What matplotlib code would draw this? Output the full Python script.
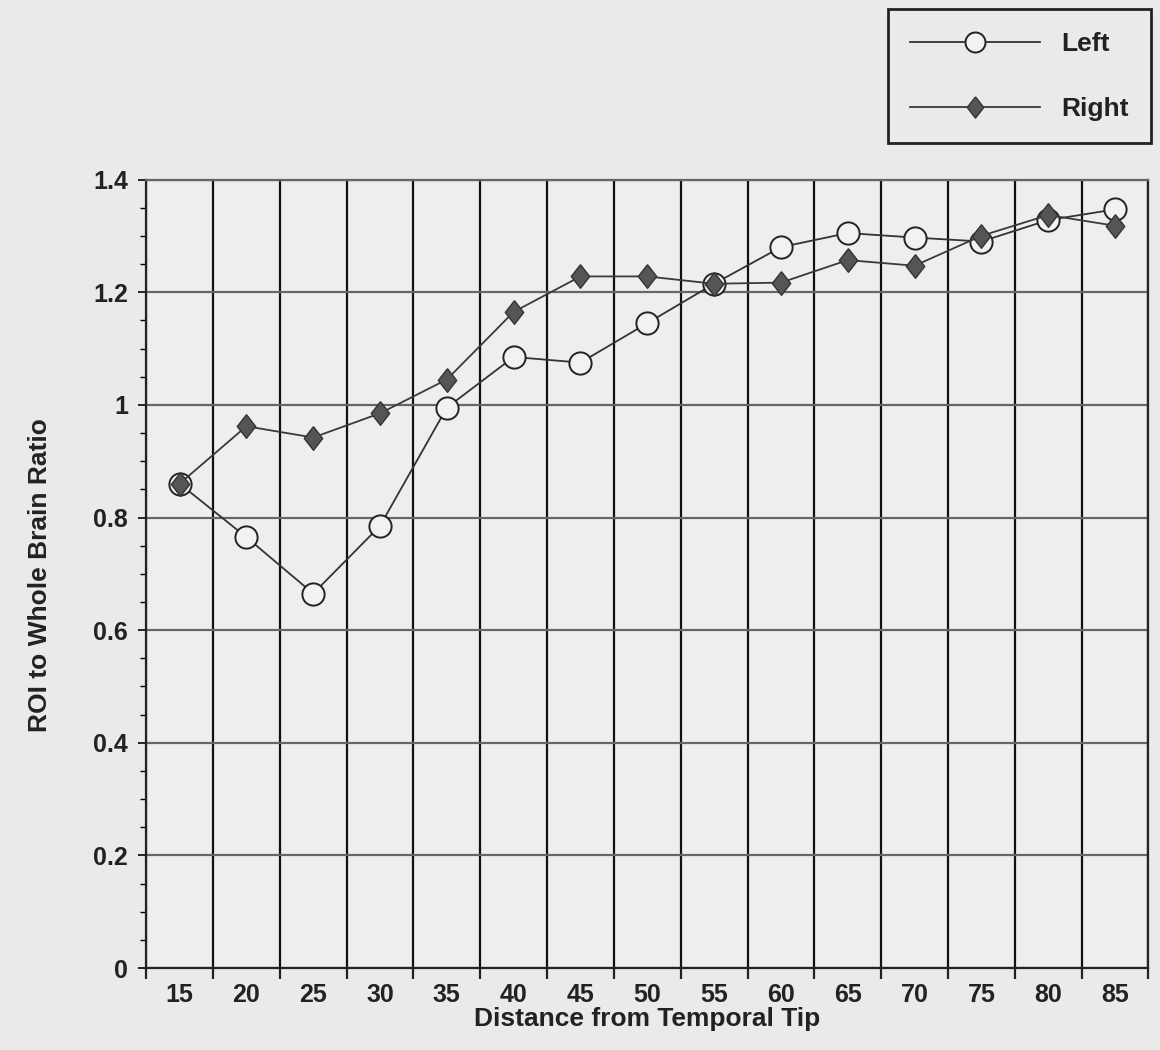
import numpy as np
import matplotlib
matplotlib.use("Agg")
import matplotlib.pyplot as plt
from matplotlib.ticker import MultipleLocator, FixedLocator

plt.rcParams['font.family'] = ['Liberation Sans', 'DejaVu Sans']
plt.rcParams['font.weight'] = 'bold'
plt.rcParams['axes.labelweight'] = 'bold'

# distance from temporal tip (mm) and ROI / whole brain ratios
distance = [15, 20, 25, 30, 35, 40, 45, 50, 55, 60, 65, 70, 75, 80, 85]
left = [0.86, 0.765, 0.665, 0.785, 0.995, 1.085, 1.075, 1.145, 1.215,
        1.28, 1.305, 1.297, 1.29, 1.328, 1.347]
right = [0.86, 0.962, 0.942, 0.985, 1.045, 1.165, 1.228, 1.228, 1.215,
         1.217, 1.257, 1.247, 1.3, 1.337, 1.318]
ytick_labels = ['0', '0.2', '0.4', '0.6', '0.8', '1', '1.2', '1.4']

# slightly tall diamond
diamond = [(0, 1), (0.78, 0), (0, -1), (-0.78, 0), (0, 1)]

bg = '#eaeaea'
fig = plt.figure(figsize=(11.6, 10.5), dpi=100, facecolor=bg)
ax = fig.add_axes([0.126, 0.078, 0.864, 0.751], facecolor='#eeeeee')

x = np.arange(len(distance))
ax.plot(x, left, color='#333333', lw=1.3, marker='o', ms=16,
        mfc='#f2f2f2', mec='#222222', mew=1.4, label='Left', zorder=3)
ax.plot(x, right, color='#3a3a3a', lw=1.3, marker=diamond, ms=17,
        mfc='#555555', mec='#333333', mew=1.0, label='Right', zorder=4)

ax.set_xlim(-0.5, len(distance) - 0.5)
ax.set_ylim(0, 1.4)
ax.set_xticks(x)
ax.set_xticklabels([str(d) for d in distance])
ax.xaxis.set_minor_locator(FixedLocator(np.arange(-0.5, len(distance), 1.0)))
ax.tick_params(axis='x', which='major', length=0, pad=11, labelsize=18,
               labelcolor='#222222')
ax.tick_params(axis='x', which='minor', length=8, width=1.6, color='#222222')
ax.set_yticks(np.arange(0, 1.41, 0.2))
ax.set_yticklabels(ytick_labels)
ax.yaxis.set_minor_locator(MultipleLocator(0.05))
ax.tick_params(axis='y', which='major', length=6, width=1.2, labelsize=18,
               pad=7, labelcolor='#222222')
ax.tick_params(axis='y', which='minor', length=4, width=1.0)

ax.grid(axis='y', which='major', color='#666666', lw=1.6)
ax.grid(axis='x', which='minor', color='#111111', lw=1.6)
ax.set_axisbelow(True)
for s in ax.spines.values():
    s.set_color('#222222')
    s.set_linewidth(1.6)
ax.spines['top'].set_color('#666666')

ax.set_xlabel('Distance from Temporal Tip', fontsize=19, labelpad=0,
              color='#222222')
fig.text(40 / 1160, 1 - 575 / 1050, 'ROI to Whole Brain Ratio', fontsize=19,
         rotation=90, ha='center', va='center', color='#222222')

leg = fig.legend(loc='upper right', bbox_to_anchor=(0.992, 0.991), fontsize=19,
                 frameon=True, fancybox=False, edgecolor='#222222',
                 facecolor=bg, framealpha=1, handlelength=4.9, handletextpad=0.8,
                 labelspacing=1.55, borderpad=0.85, borderaxespad=0,
                 markerscale=0.9)
leg.get_frame().set_linewidth(2.0)
for t in leg.get_texts():
    t.set_color('#222222')

fig.savefig('out.png', dpi=100, facecolor=bg)
